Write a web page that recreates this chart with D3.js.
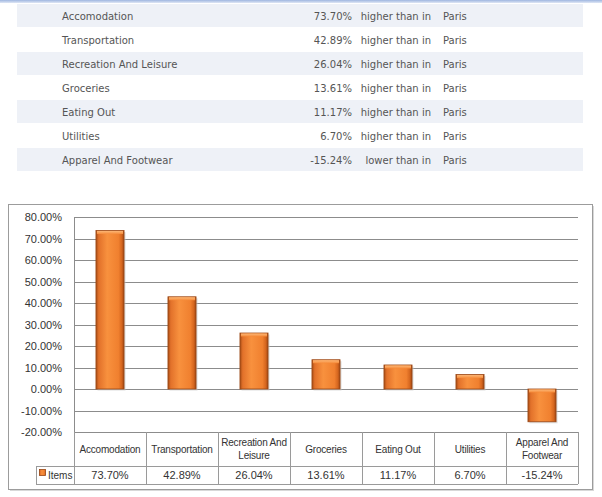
<!DOCTYPE html>
<html lang="en">
<head>
  <meta charset="UTF-8">
  <title>Cost of living compared with Paris</title>
  <script src="https://d3js.org/d3.v7.min.js"></script>
  <style>
    body { margin: 0; background: #ffffff; }
    .list text { font-family: "DejaVu Sans", sans-serif; font-size: 10px; fill: #555; }
    .chart text { font-family: "Liberation Sans", Arial, sans-serif; fill: #333; }
    .grid line { stroke: #8c8c8c; stroke-width: 1; }
    .cells line { stroke: #9a9a9a; stroke-width: 1; }
  </style>
</head>
<body>
  <script>
    const width = 602, height = 497;

    // data
    const categories = ["Accomodation", "Transportation", "Recreation And Leisure", "Groceries", "Eating Out", "Utilities", "Apparel And Footwear"];
    const values = [73.70, 42.89, 26.04, 13.61, 11.17, 6.70, -15.24];
    const compareCity = "Paris";
    const yTicks = [80, 70, 60, 50, 40, 30, 20, 10, 0, -10, -20];
    const seriesName = "Items";

    const fmt = v => v.toFixed(2) + "%";

    const svg = d3.select("body").append("svg")
      .attr("width", width)
      .attr("height", height);

    const defs = svg.append("defs");
    const barGrad = defs.append("linearGradient").attr("id", "barGrad")
      .attr("x1", "0%").attr("x2", "100%").attr("y1", "0%").attr("y2", "0%");
    [["0%", "#a84d15"], ["10%", "#e2712a"], ["40%", "#f8913e"], ["80%", "#f0802f"], ["92%", "#d5661f"], ["100%", "#9e4713"]]
      .forEach(([o, c]) => barGrad.append("stop").attr("offset", o).attr("stop-color", c));
    const topGrad = defs.append("linearGradient").attr("id", "topGrad")
      .attr("x1", "0%").attr("x2", "0%").attr("y1", "0%").attr("y2", "100%");
    [["0%", "#fcb878"], ["100%", "#f68a38"]]
      .forEach(([o, c]) => topGrad.append("stop").attr("offset", o).attr("stop-color", c));
    const topLine = defs.append("linearGradient").attr("id", "topLine")
      .attr("x1", "0%").attr("x2", "0%").attr("y1", "0%").attr("y2", "100%");
    [["0%", "#9fb6e0"], ["100%", "#dfe7f5"]]
      .forEach(([o, c]) => topLine.append("stop").attr("offset", o).attr("stop-color", c));

    // ---- top comparison list ----
    const list = svg.append("g").attr("class", "list");
    list.append("rect").attr("x", 0).attr("y", 0).attr("width", width).attr("height", 3)
      .attr("fill", "url(#topLine)");

    const rowH = 24, rowTop = 4;
    const rows = list.selectAll("g.row")
      .data(categories.map((c, i) => ({ name: c, value: values[i], i })))
      .join("g")
      .attr("class", "row")
      .attr("transform", d => `translate(0, ${rowTop + d.i * rowH})`);

    rows.filter(d => d.i % 2 === 0).append("rect")
      .attr("x", 17).attr("y", 0).attr("width", 566).attr("height", rowH - 1)
      .attr("fill", "#eef1f7");

    rows.append("text").attr("x", 62).attr("y", 12).attr("dy", "0.35em")
      .text(d => d.name);
    rows.append("text").attr("x", 352).attr("y", 12).attr("dy", "0.35em")
      .attr("text-anchor", "end").text(d => fmt(d.value));
    rows.append("text").attr("x", 431).attr("y", 12).attr("dy", "0.35em")
      .attr("text-anchor", "end").text(d => d.value >= 0 ? "higher than in" : "lower than in");
    rows.append("text").attr("x", 443).attr("y", 12).attr("dy", "0.35em")
      .text(compareCity);

    // ---- chart ----
    const chart = svg.append("g").attr("class", "chart");

    // outer frame with soft shadow
    chart.append("rect").attr("x", 10).attr("y", 206).attr("width", 584).attr("height", 285)
      .attr("fill", "#d8d8d8");
    chart.append("rect").attr("x", 8.5).attr("y", 204.5).attr("width", 584).attr("height", 285)
      .attr("fill", "#ffffff").attr("stroke", "#9c9c9c");

    const plot = { left: 74, right: 578, top: 217, bottom: 432 };

    const y = d3.scaleLinear().domain([-20, 80]).range([plot.bottom, plot.top]);
    const x = d3.scaleBand().domain(categories).range([plot.left, plot.right]).padding(0);
    const barW = x.bandwidth() * 0.39;

    // gridlines
    chart.append("g").attr("class", "grid")
      .selectAll("line").data(yTicks).join("line")
      .attr("x1", plot.left).attr("x2", plot.right)
      .attr("y1", d => Math.round(y(d)) + 0.5).attr("y2", d => Math.round(y(d)) + 0.5);

    // y axis
    const yAxis = d3.axisLeft(y).tickValues(yTicks).tickSize(0).tickPadding(12)
      .tickFormat(d => d.toFixed(2) + "%");
    const yg = chart.append("g").attr("transform", `translate(${plot.left}, 0)`).call(yAxis);
    yg.select(".domain").attr("stroke", "#8c8c8c").attr("d", `M0.5,${plot.top}V${plot.bottom}`);
    yg.selectAll("text").attr("font-size", 11).attr("fill", "#333")
      .attr("font-family", "Liberation Sans, Arial, sans-serif");

    // bars
    const bars = chart.append("g").selectAll("g.bar")
      .data(categories.map((c, i) => ({ name: c, value: values[i] })))
      .join("g").attr("class", "bar");

    bars.append("rect")
      .attr("x", d => x(d.name) + (x.bandwidth() - barW) / 2 + 1.5)
      .attr("y", d => Math.min(y(d.value), y(0)) + 1.5)
      .attr("width", barW)
      .attr("height", d => Math.abs(y(d.value) - y(0)))
      .attr("fill", "#c9c9c9").attr("opacity", 0.6);
    bars.append("rect")
      .attr("x", d => x(d.name) + (x.bandwidth() - barW) / 2)
      .attr("y", d => Math.min(y(d.value), y(0)))
      .attr("width", barW)
      .attr("height", d => Math.abs(y(d.value) - y(0)))
      .attr("fill", "url(#barGrad)")
      .attr("stroke", "#9a4614").attr("stroke-width", 0.8);
    bars.append("rect")
      .attr("x", d => x(d.name) + (x.bandwidth() - barW) / 2 + 1)
      .attr("y", d => Math.min(y(d.value), y(0)) + 0.5)
      .attr("width", barW - 2)
      .attr("height", 3)
      .attr("fill", "url(#topGrad)");

    // data table under the plot
    const tbl = { labelTop: plot.bottom, valueTop: 466, bottom: 484, legendLeft: 36 };
    const cells = chart.append("g").attr("class", "cells");
    const edges = [plot.left].concat(categories.map(c => x(c) + x.bandwidth()));

    cells.selectAll("line.v").data(edges).join("line").attr("class", "v")
      .attr("x1", d => Math.round(d) + 0.5).attr("x2", d => Math.round(d) + 0.5)
      .attr("y1", tbl.labelTop).attr("y2", tbl.bottom);
    cells.append("line")
      .attr("x1", tbl.legendLeft).attr("x2", plot.right)
      .attr("y1", tbl.valueTop + 0.5).attr("y2", tbl.valueTop + 0.5);
    cells.append("line")
      .attr("x1", tbl.legendLeft).attr("x2", plot.right)
      .attr("y1", tbl.bottom + 0.5).attr("y2", tbl.bottom + 0.5);
    cells.append("line")
      .attr("x1", tbl.legendLeft + 0.5).attr("x2", tbl.legendLeft + 0.5)
      .attr("y1", tbl.valueTop).attr("y2", tbl.bottom);

    // category labels, wrapped to the cell width
    const labels = chart.append("g").selectAll("text.cat")
      .data(categories).join("text").attr("class", "cat")
      .attr("font-size", 10)
      .attr("letter-spacing", -0.2)
      .attr("text-anchor", "middle");
    labels.each(function (d) {
      const t = d3.select(this);
      const words = d.split(" ");
      const lines = [];
      let line = [];
      words.forEach(w => {
        line.push(w);
        t.text(line.join(" "));
        if (this.getComputedTextLength() > x.bandwidth() - 1 && line.length > 1) {
          line.pop();
          lines.push(line.join(" "));
          line = [w];
        }
      });
      lines.push(line.join(" "));
      t.text(null);
      const cx = x(d) + x.bandwidth() / 2;
      const mid = (tbl.labelTop + tbl.valueTop) / 2;
      const lh = 13;
      lines.forEach((l, k) => {
        t.append("tspan").attr("x", cx)
          .attr("y", mid + (k - (lines.length - 1) / 2) * lh)
          .attr("dy", "0.35em").text(l);
      });
    });

    // value row
    chart.append("g").selectAll("text.val")
      .data(categories.map((c, i) => ({ name: c, value: values[i] })))
      .join("text").attr("class", "val")
      .attr("x", d => x(d.name) + x.bandwidth() / 2)
      .attr("y", (tbl.valueTop + tbl.bottom) / 2).attr("dy", "0.35em")
      .attr("text-anchor", "middle").attr("font-size", 11)
      .text(d => fmt(d.value));

    // legend key
    chart.append("rect").attr("x", 39.5).attr("y", 469.5).attr("width", 6).attr("height", 6)
      .attr("fill", "url(#barGrad)").attr("stroke", "#9a4614").attr("stroke-width", 0.8);
    chart.append("text").attr("x", 48).attr("y", (tbl.valueTop + tbl.bottom) / 2).attr("dy", "0.35em")
      .attr("font-size", 10).text(seriesName);
  </script>
</body>
</html>
